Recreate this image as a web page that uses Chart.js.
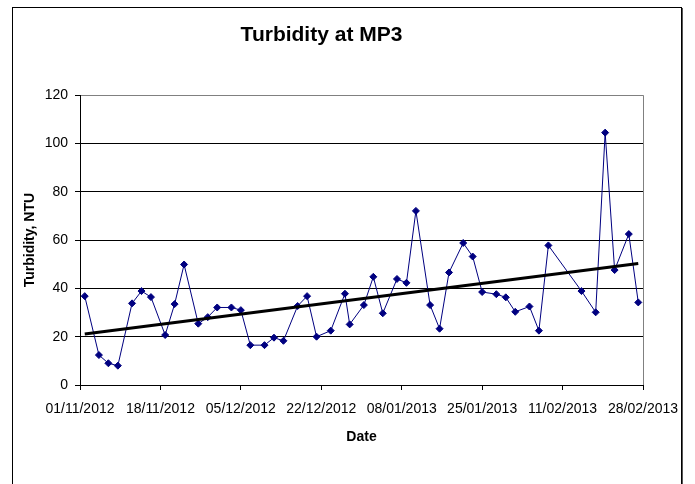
<!DOCTYPE html>
<html>
<head>
<meta charset="utf-8">
<title>Turbidity at MP3</title>
<script src="https://cdn.jsdelivr.net/npm/chart.js@4.4.1/dist/chart.umd.min.js"></script>
<style>
    html, body { margin: 0; padding: 0; background: #fff; }
    #wrap { width: 695px; height: 484px; }
</style>
</head>
<body>
<div id="wrap"><canvas id="turbChart" width="695" height="484"></canvas></div>
<script>
// sample dates and turbidity readings (NTU)
const sampleDates = [
    '02/11/2012', '05/11/2012', '07/11/2012', '09/11/2012', '12/11/2012', '14/11/2012', '16/11/2012',
    '19/11/2012', '21/11/2012', '23/11/2012', '26/11/2012', '28/11/2012', '30/11/2012', '03/12/2012',
    '05/12/2012', '07/12/2012', '10/12/2012', '12/12/2012', '14/12/2012', '17/12/2012', '19/12/2012',
    '21/12/2012', '24/12/2012', '27/12/2012', '28/12/2012', '31/12/2012', '02/01/2013', '04/01/2013',
    '07/01/2013', '09/01/2013', '11/01/2013', '14/01/2013', '16/01/2013', '18/01/2013', '21/01/2013',
    '23/01/2013', '25/01/2013', '28/01/2013', '30/01/2013', '01/02/2013', '04/02/2013', '06/02/2013',
    '08/02/2013', '15/02/2013', '18/02/2013', '20/02/2013', '22/02/2013', '25/02/2013', '27/02/2013'
];
const turbidity = [
    36.8, 12.4, 9.0, 8.0, 33.8, 38.9, 36.4,
    20.7, 33.5, 49.9, 25.4, 28.1, 32.1, 32.1,
    31.0, 16.5, 16.5, 19.6, 18.3, 32.7, 36.8,
    20.0, 22.5, 37.8, 25.1, 33.1, 44.8, 29.7,
    43.9, 42.3, 72.1, 33.1, 23.3, 46.6, 58.8,
    53.2, 38.5, 37.6, 36.3, 30.3, 32.5, 22.5,
    57.8, 38.9, 30.1, 104.5, 47.6, 62.5, 34.2
];

// linear trend line, end points
const trendDates = ['02/11/2012', '27/02/2013'];
const trendValues = [21.1, 50.3];

// axis range and tick labels
const startDate = '01/11/2012';
const endDate = '28/02/2013';
const tickStepDays = 17;
const yTicks = [0, 20, 40, 60, 80, 100, 120];

const DAY = 24 * 3600 * 1000;
function parseDate(s) {
    const p = s.split('/');
    return Date.UTC(+p[2], +p[1] - 1, +p[0]);
}
const t0 = parseDate(startDate);
function toDay(s) { return Math.round((parseDate(s) - t0) / DAY); }
function fmtDay(d) {
    const dt = new Date(t0 + d * DAY);
    const dd = String(dt.getUTCDate()).padStart(2, '0');
    const mm = String(dt.getUTCMonth() + 1).padStart(2, '0');
    return dd + '/' + mm + '/' + dt.getUTCFullYear();
}

const points = sampleDates.map((d, i) => ({ x: toDay(d), y: turbidity[i] }));
const trend = trendDates.map((d, i) => ({ x: toDay(d), y: trendValues[i] }));

// white page with the outer frame of the chart
const framePlugin = {
    id: 'frame',
    beforeDraw(chart) {
        const ctx = chart.ctx;
        ctx.save();
        ctx.fillStyle = '#fff';
        ctx.fillRect(0, 0, chart.width, chart.height);
        ctx.strokeStyle = '#000';
        ctx.lineWidth = 1;
        ctx.strokeRect(12.5, 7.5, 669, 500);
        ctx.strokeStyle = '#555';
        ctx.beginPath();
        ctx.moveTo(682.5, 8);
        ctx.lineTo(682.5, chart.height);
        ctx.stroke();
        ctx.restore();
    }
};

const FONT = 'Liberation Sans, Arial, sans-serif';

const ctx = document.getElementById('turbChart').getContext('2d');
new Chart(ctx, {
    type: 'line',
    data: {
        datasets: [{
            label: 'Trend',
            data: trend,
            borderColor: '#000',
            borderWidth: 3,
            pointRadius: 0,
            fill: false,
            order: 0
        }, {
            label: 'Turbidity',
            data: points,
            borderColor: '#000080',
            backgroundColor: '#000080',
            borderWidth: 1,
            pointStyle: 'rectRot',
            pointRadius: 3.5,
            pointBorderWidth: 1,
            tension: 0,
            fill: false,
            order: 1
        }]
    },
    options: {
        responsive: false,
        animation: false,
        devicePixelRatio: 1,
        layout: {
            padding: { left: 0, right: 52, top: 0, bottom: 0 }
        },
        plugins: {
            legend: { display: false },
            tooltip: { enabled: false },
            title: {
                display: true,
                text: 'Turbidity at MP3',
                color: '#000',
                font: { family: FONT, size: 21, weight: 'bold' },
                padding: { top: 23, bottom: 47 }
            }
        },
        scales: {
            x: {
                type: 'linear',
                min: 0,
                max: toDay(endDate),
                afterFit(scale) { scale.height = 99; },
                afterBuildTicks(scale) {
                    const ticks = [];
                    for (let d = 0; d <= toDay(endDate); d += tickStepDays) ticks.push({ value: d });
                    scale.ticks = ticks;
                },
                ticks: {
                    color: '#000',
                    font: { family: FONT, size: 14 },
                    padding: 11,
                    maxRotation: 0,
                    autoSkip: false,
                    callback: v => fmtDay(v)
                },
                grid: {
                    drawOnChartArea: true,
                    color: c => (c.tick && c.tick.value === toDay(endDate)) ? '#808080' : 'rgba(0,0,0,0)',
                    tickColor: '#000',
                    tickLength: 5,
                    lineWidth: 1
                },
                border: { display: true, color: '#000', width: 1 },
                title: {
                    display: true,
                    text: 'Date',
                    color: '#000',
                    font: { family: FONT, size: 14, weight: 'bold' },
                    padding: { top: 0, bottom: 38 }
                }
            },
            y: {
                min: yTicks[0],
                max: yTicks[yTicks.length - 1],
                afterFit(scale) { scale.width = 80; },
                afterBuildTicks(scale) {
                    scale.ticks = yTicks.map(v => ({ value: v }));
                },
                ticks: {
                    color: '#000',
                    font: { family: FONT, size: 14 },
                    padding: 7
                },
                grid: {
                    color: c => (c.tick && c.tick.value === yTicks[yTicks.length - 1]) ? '#808080' : '#000',
                    tickColor: '#000',
                    tickLength: 5,
                    lineWidth: 1
                },
                border: { display: true, color: '#000', width: 1 },
                title: {
                    display: true,
                    text: 'Turbidity, NTU',
                    color: '#000',
                    font: { family: FONT, size: 14, weight: 'bold' },
                    padding: { top: 22, bottom: 0 }
                }
            }
        }
    },
    plugins: [framePlugin]
});
</script>
</body>
</html>
